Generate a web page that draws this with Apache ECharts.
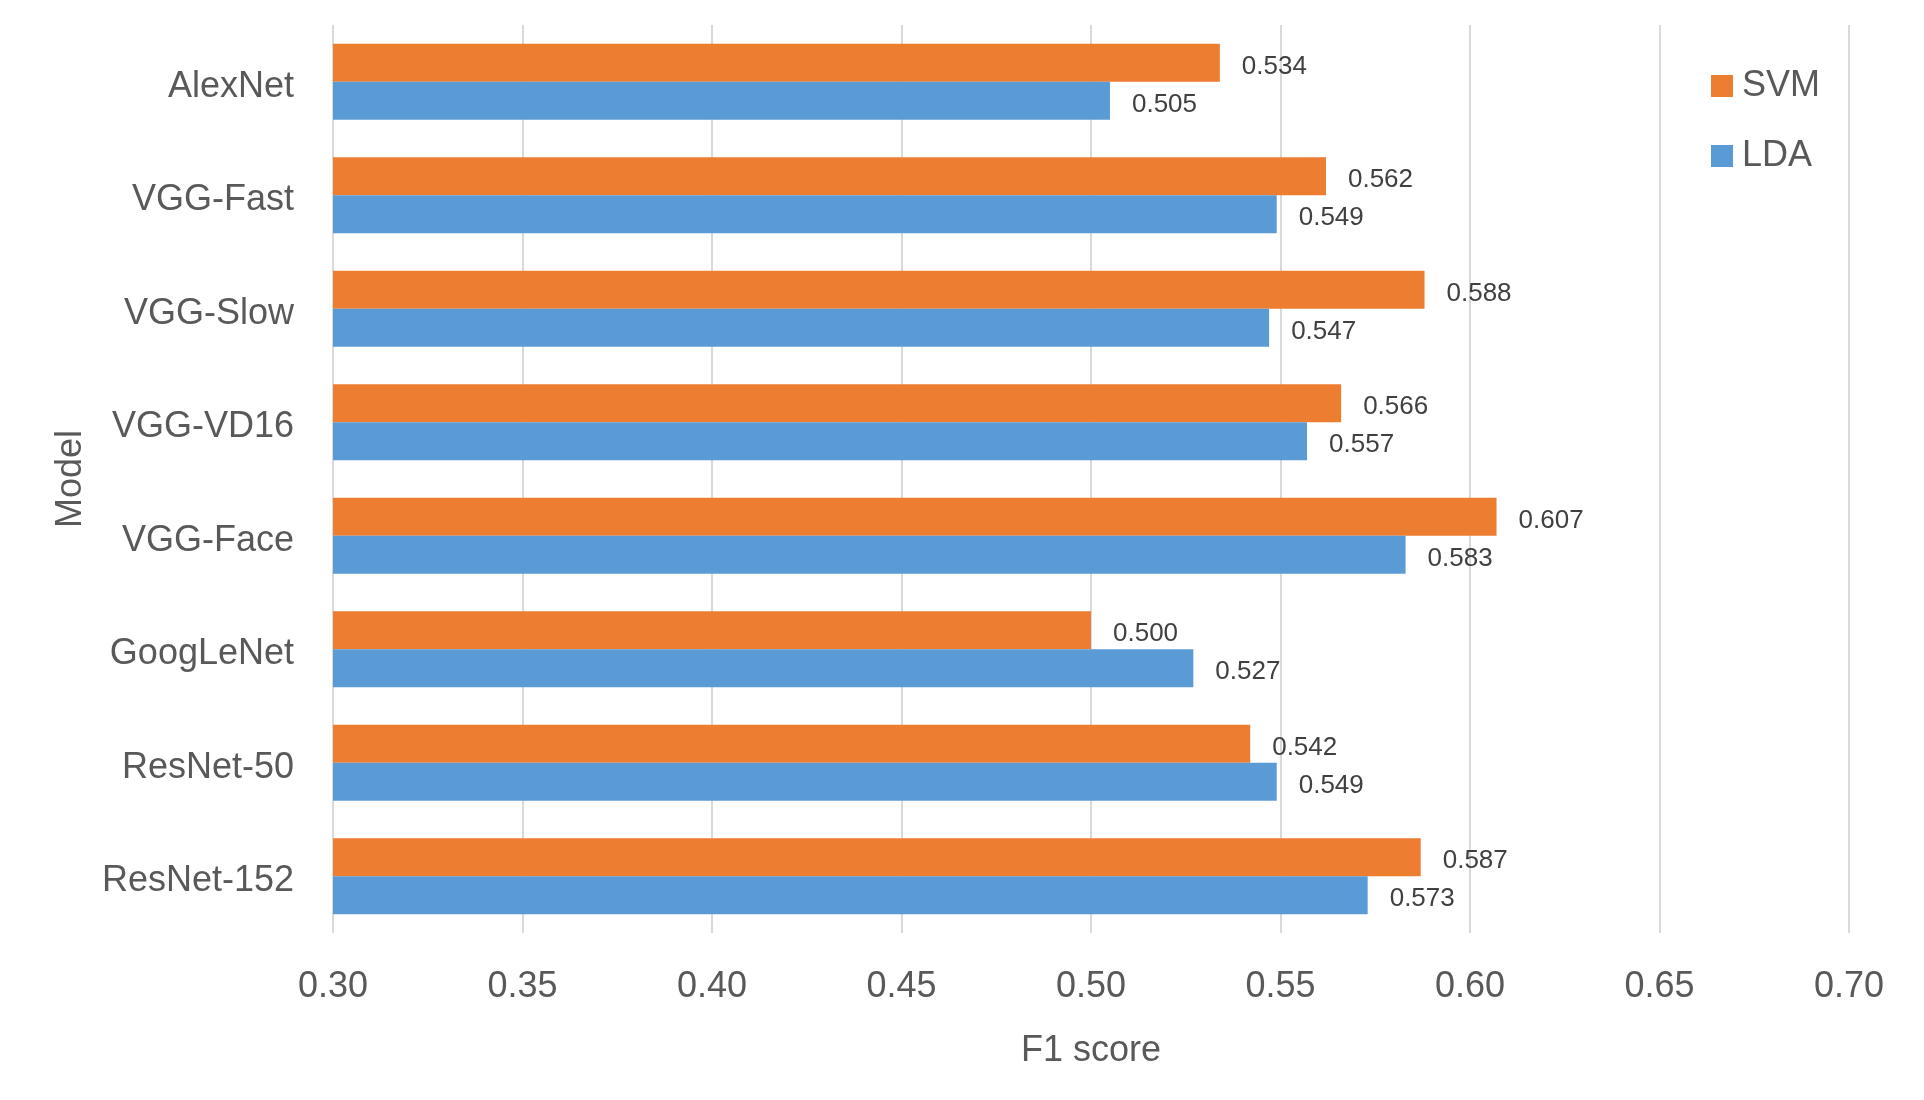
<!DOCTYPE html>
<html>
<head>
<meta charset="utf-8">
<script src="https://cdn.jsdelivr.net/npm/echarts@6/dist/echarts.min.js"></script>
<style>html,body{margin:0;padding:0;background:#fff}#c{width:1924px;height:1100px}</style>
</head>
<body>
<div id="c"></div>
<script>
const categories = ['AlexNet','VGG-Fast','VGG-Slow','VGG-VD16','VGG-Face','GoogLeNet','ResNet-50','ResNet-152'];
const svmValues = [0.534, 0.562, 0.588, 0.566, 0.607, 0.500, 0.542, 0.587];
const ldaValues = [0.505, 0.549, 0.547, 0.557, 0.583, 0.527, 0.549, 0.573];
const seriesNames = ['SVM', 'LDA'];
const xMin = 0.30, xMax = 0.70, xStep = 0.05;

const FONT = "'Liberation Sans', Arial, sans-serif";
const TXT = '#595959';
const chart = echarts.init(document.getElementById('c'), null, {renderer: 'canvas'});
const labelCfg = {
  show: true, position: 'right', distance: 22, offset: [0, 4],
  fontFamily: FONT, fontSize: 26, color: '#404040',
  formatter: p => p.value.toFixed(3)
};
chart.setOption({
  backgroundColor: '#fff',
  animation: false,
  grid: {left: 333, right: 75, top: 25, bottom: 167},
  legend: {
    orient: 'vertical', left: 1706, top: 61,
    itemWidth: 22, itemHeight: 22, itemGap: 30, icon: 'rect',
    textStyle: {fontFamily: FONT, fontSize: 36, color: TXT, lineHeight: 40, padding: [0,0,0,4]},
    data: seriesNames
  },
  xAxis: {
    type: 'value', min: xMin, max: xMax, interval: xStep,
    name: 'F1 score', nameLocation: 'middle', nameGap: 100,
    nameTextStyle: {fontFamily: FONT, fontSize: 36, color: TXT},
    axisLine: {show: false}, axisTick: {show: false},
    axisLabel: {fontFamily: FONT, fontSize: 36, color: TXT, margin: 36, formatter: v => v.toFixed(2)},
    splitLine: {show: true, lineStyle: {color: '#D9D9D9', width: 2}}
  },
  yAxis: {
    type: 'category', data: categories, inverse: true,
    name: 'Model', nameLocation: 'middle', nameGap: 244, nameRotate: 90,
    nameTextStyle: {fontFamily: FONT, fontSize: 36, color: TXT},
    axisLine: {show: false}, axisTick: {show: false},
    axisLabel: {fontFamily: FONT, fontSize: 36, color: TXT, margin: 39, verticalAlign: 'top', lineHeight: 10}
  },
  series: [
    {name: seriesNames[0], type: 'bar', data: svmValues, barCategoryGap: '33%', barGap: '0%',
     itemStyle: {color: '#ED7D31'}, label: labelCfg},
    {name: seriesNames[1], type: 'bar', data: ldaValues, barCategoryGap: '33%', barGap: '0%',
     itemStyle: {color: '#5B9BD5'}, label: labelCfg}
  ]
});
</script>
</body>
</html>
